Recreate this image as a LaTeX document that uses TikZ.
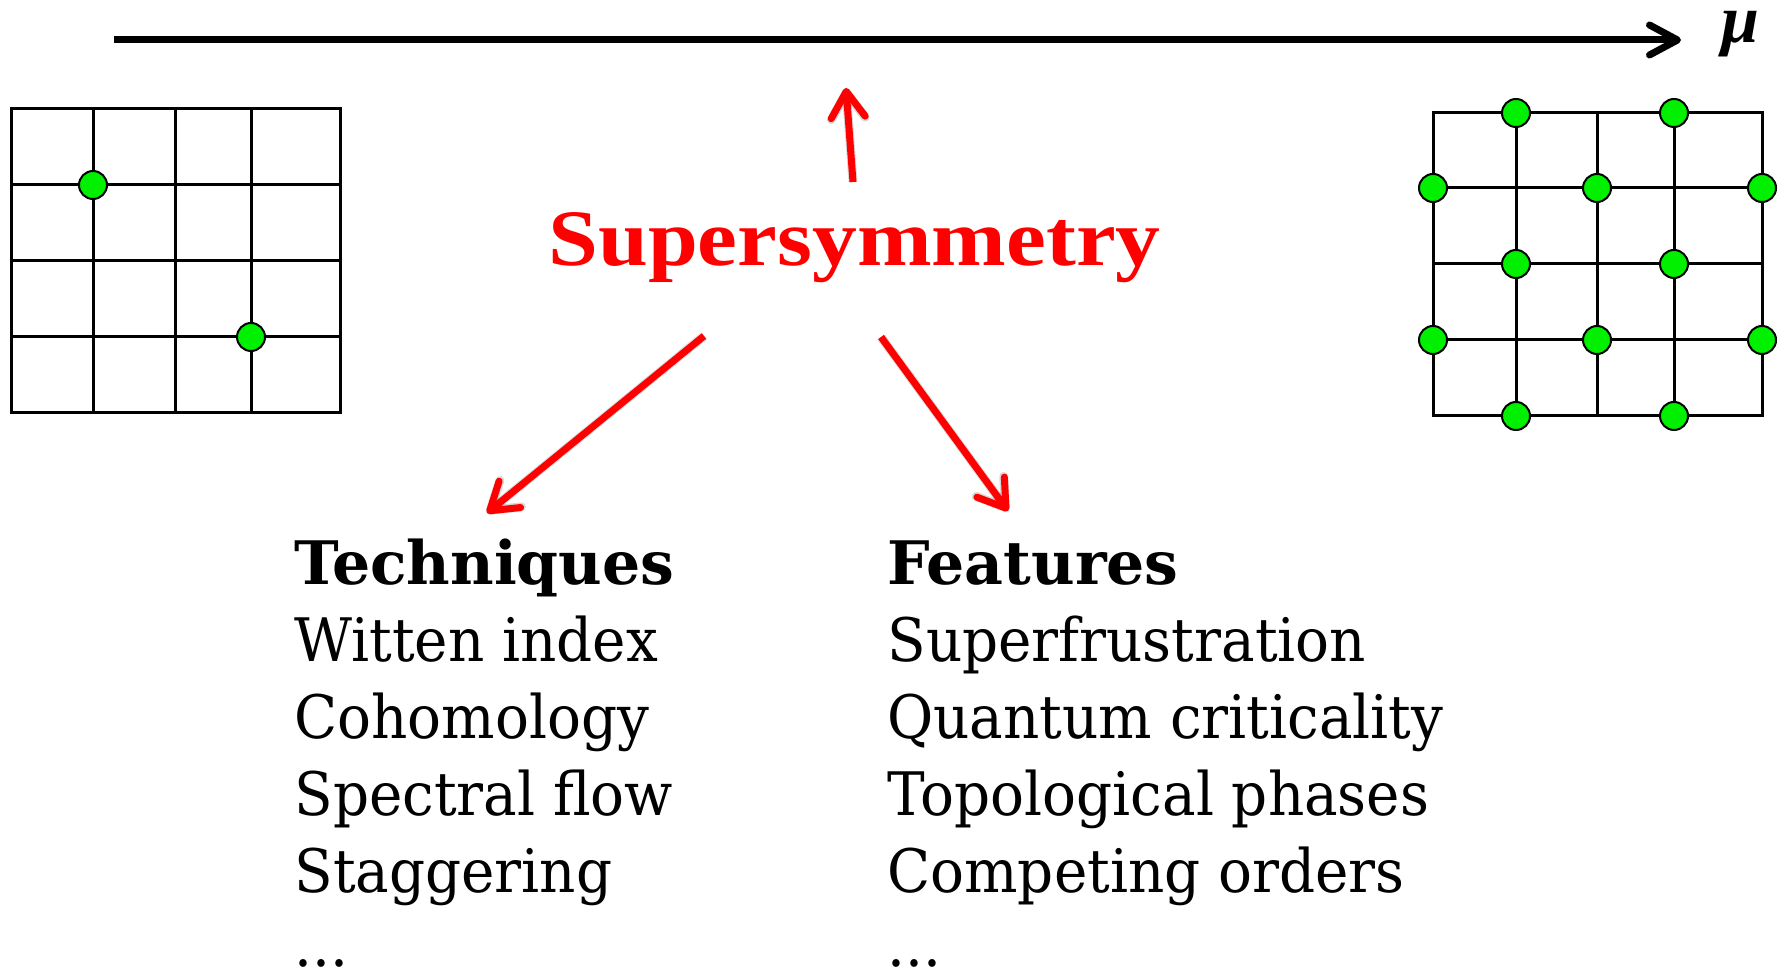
\documentclass[tikz,border=0pt]{standalone}
\usepackage{fontspec}
\setmainfont{DejaVu Serif}
\newfontfamily\timesfont{Liberation Serif}
\usetikzlibrary{arrows.meta}
\definecolor{dotgreen}{RGB}{0,240,0}
\definecolor{susyred}{RGB}{255,0,0}
\begin{document}
\begin{tikzpicture}[x=0.5pt,y=-0.5pt,
  gridline/.style={line width=1.5pt, line cap=rect},
  site/.style={circle, fill=dotgreen, draw=black, line width=1pt, minimum size=14pt, inner sep=0pt},
  axisarrow/.style={line width=3.5pt, -{Straight Barb[round, length=14pt, width=15pt]}},
  redarrow/.style={line width=3.5pt, draw=susyred, -{Straight Barb[round, length=13pt, width=17pt]}},
  shadowarrow/.style={line width=4.5pt, draw=black, opacity=0.15, -{Straight Barb[round, length=13pt, width=17pt]}},
  bodytext/.style={anchor=base west, inner sep=0pt, xscale=0.94, font=\fontsize{30}{36}\selectfont},
  headtext/.style={anchor=base west, inner sep=0pt, font=\bfseries\fontsize{30}{36}\selectfont}]
\useasboundingbox (0,0) rectangle (1787,972);

% axis
\coordinate (axstart) at (114,40);
\coordinate (axend) at (1681,40);
\draw[axisarrow] (axstart) -- (axend);
\node[anchor=base, inner sep=0pt, font=\timesfont\bfseries\itshape\fontsize{34}{40}\selectfont] (mu) at (1740,43) {μ};

% left grid
\draw[gridline] (11,109) rectangle (340,413);
\foreach \x in {93,175,251} \draw[gridline] (\x,109) -- (\x,413);
\foreach \y in {185,261,337} \draw[gridline] (11,\y) -- (340,\y);
\node[site] (l1) at (93,185) {};
\node[site] (l2) at (251,337) {};

% right grid
\draw[gridline] (1433,113) rectangle (1762,416);
\foreach \x in {1516,1597,1674} \draw[gridline] (\x,113) -- (\x,416);
\foreach \y in {188,264,340} \draw[gridline] (1433,\y) -- (1762,\y);
\foreach \p/\x/\y in {a/1516/113, b/1674/113, c/1433/188, d/1597/188, e/1762/188,
  f/1516/264, g/1674/264, h/1433/340, i/1597/340, j/1762/340, k/1516/416, l/1674/416}
  \node[site] (r\p) at (\x,\y) {};

% title
\node[anchor=base west, inner sep=0pt, text=susyred, xscale=1.12,
  font=\timesfont\bfseries\fontsize{40}{48}\selectfont] (susy) at (548,266) {Supersymmetry};

% red arrows
\coordinate (upS) at (853,182);
\coordinate (upE) at (846,88);
\coordinate (lS) at (704,336);
\coordinate (lE) at (487,513);
\coordinate (rS) at (881,337);
\coordinate (rE) at (1008,511);
\begin{scope}[shift={(3,4)}]
\draw[shadowarrow] (upS) -- (upE);
\draw[shadowarrow] (lS) -- (lE);
\draw[shadowarrow] (rS) -- (rE);
\end{scope}
\draw[redarrow] (upS) -- (upE);
\draw[redarrow] (lS) -- (lE);
\draw[redarrow] (rS) -- (rE);

% lists
\node[headtext] (tech) at (294,584) {Techniques};
\node[bodytext] (t1) at (294,661) {Witten index};
\node[bodytext] (t2) at (294,738) {Cohomology};
\node[bodytext] (t3) at (294,815) {Spectral flow};
\node[bodytext] (t4) at (294,892) {Staggering};
\node[bodytext] (t5) at (294,966) {...};

\node[headtext] (feat) at (887,584) {Features};
\node[bodytext] (f1) at (887,661) {Superfrustration};
\node[bodytext] (f2) at (887,738) {Quantum criticality};
\node[bodytext] (f3) at (887,815) {Topological phases};
\node[bodytext] (f4) at (887,892) {Competing orders};
\node[bodytext] (f5) at (887,966) {...};
\end{tikzpicture}
\end{document}
